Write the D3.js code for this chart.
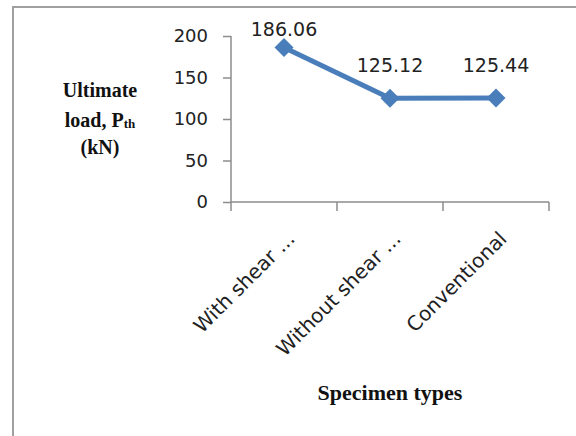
<!DOCTYPE html>
<html lang="en">
<head>
<meta charset="UTF-8">
<title>Ultimate load</title>
<script src="https://d3js.org/d3.v7.min.js"></script>
<style>
  body { margin: 0; background: #fff; }
</style>
</head>
<body>
<script>
  const categories = ["With shear ...", "Without shear ...", "Conventional"];
  const loads = [186.06, 125.12, 125.44];
  const yTicks = [0, 50, 100, 150, 200];

  const w = 576, h = 436;
  const plotLeft = 231, plotRight = 549, plotTop = 36, plotBottom = 202;

  const svg = d3.select("body").append("svg")
    .attr("width", w).attr("height", h);

  // chart border
  svg.append("rect")
    .attr("x", 13).attr("y", 7)
    .attr("width", 600).attr("height", 460)
    .attr("fill", "none")
    .attr("stroke", "#a0a0a0")
    .attr("stroke-width", 2);

  const x = d3.scaleBand().domain(categories).range([plotLeft, plotRight]);
  const y = d3.scaleLinear().domain([0, 200]).range([plotBottom, plotTop]);

  const tickFont = "'DejaVu Sans', sans-serif";
  const titleFont = "'Liberation Serif', 'DejaVu Serif', serif";

  // y axis
  const yAxis = svg.append("g")
    .attr("transform", "translate(" + plotLeft + ",0)")
    .call(d3.axisLeft(y).tickValues(yTicks).tickSize(8).tickPadding(15));
  yAxis.select(".domain").attr("stroke", "#8c8c8c").attr("stroke-width", 1.5)
    .attr("d", "M0," + plotTop + "V" + plotBottom);
  yAxis.selectAll(".tick line").attr("stroke", "#8c8c8c").attr("stroke-width", 1.5);
  yAxis.selectAll("text")
    .attr("font-family", tickFont).attr("font-size", 18).attr("fill", "#222");

  // x axis
  const xAxis = svg.append("g")
    .attr("transform", "translate(0," + plotBottom + ")")
    .call(d3.axisBottom(x).tickSize(0).tickFormat(""));
  xAxis.select(".domain").attr("stroke", "#8c8c8c").attr("stroke-width", 1.5)
    .attr("d", "M" + plotLeft + ",0H" + plotRight);
  const bounds = [plotLeft].concat(categories.map(c => x(c) + x.bandwidth()));
  xAxis.selectAll(".bound").data(bounds).enter().append("line")
    .attr("x1", d => d).attr("x2", d => d)
    .attr("y1", 0).attr("y2", 9)
    .attr("stroke", "#8c8c8c").attr("stroke-width", 1.5);

  svg.selectAll(".xlab").data(categories).enter().append("text")
    .attr("transform", d => "translate(" + (x(d) + x.bandwidth() / 2 + 12) + "," + 240 + ") rotate(-45)")
    .attr("text-anchor", "end")
    .attr("font-family", tickFont).attr("font-size", 20).attr("fill", "#222")
    .text(d => d);

  // line
  const cx = d => x(d) + x.bandwidth() / 2;
  const line = d3.line().x((d, i) => cx(categories[i])).y(d => y(d));
  svg.append("path").datum(loads)
    .attr("d", line)
    .attr("fill", "none")
    .attr("stroke", "#4a7ebb")
    .attr("stroke-width", 5);

  svg.selectAll(".pt").data(loads).enter().append("path")
    .attr("d", d3.symbol().type(d3.symbolDiamond2).size(230))
    .attr("transform", (d, i) => "translate(" + cx(categories[i]) + "," + y(d) + ")")
    .attr("fill", "#4a7ebb");

  svg.selectAll(".lbl").data(loads).enter().append("text")
    .attr("x", (d, i) => cx(categories[i]))
    .attr("y", (d, i) => i === 0 ? y(d) - 12 : y(d) - 26)
    .attr("text-anchor", "middle")
    .attr("font-family", tickFont).attr("font-size", 19).attr("fill", "#222")
    .text(d => d.toFixed(2));

  // axis titles
  const yt = svg.append("text")
    .attr("text-anchor", "middle")
    .attr("font-family", titleFont)
    .attr("font-weight", "bold").attr("font-size", 20).attr("fill", "#111");
  yt.append("tspan").attr("x", 100).attr("y", 97).text("Ultimate");
  const l2 = yt.append("tspan").attr("x", 100).attr("y", 127).text("load, P");
  l2.append("tspan").attr("font-size", 13).attr("dy", 1).text("th");
  yt.append("tspan").attr("x", 100).attr("y", 154).text("(kN)");

  svg.append("text")
    .attr("x", 390).attr("y", 400)
    .attr("text-anchor", "middle")
    .attr("font-family", titleFont)
    .attr("font-weight", "bold").attr("font-size", 22).attr("fill", "#111")
    .text("Specimen types");
</script>
</body>
</html>
